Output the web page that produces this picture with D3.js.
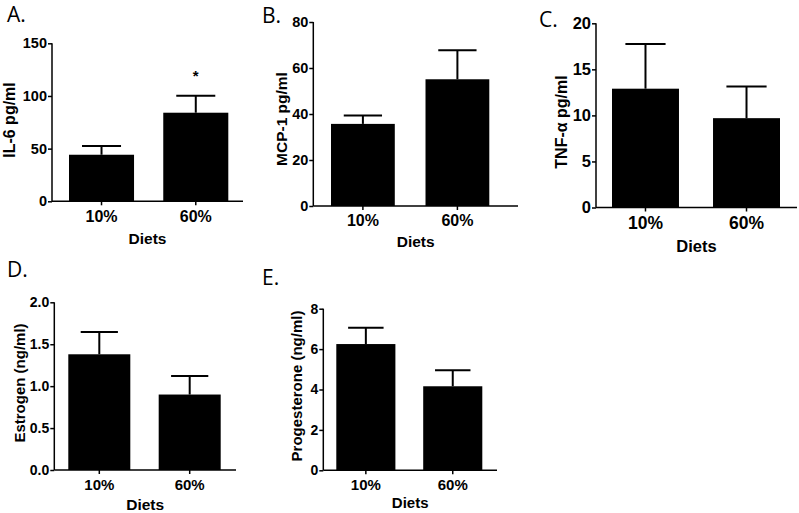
<!DOCTYPE html>
<html><head><meta charset="utf-8">
<script src="https://cdn.jsdelivr.net/npm/d3@7"></script>
<style>
html,body{margin:0;padding:0;background:#fff;}
svg{display:block;}
.lab{font-family:"Liberation Sans",Arial,sans-serif;font-weight:bold;fill:#000;}
.ttl{font-family:"Open Sans",sans-serif;font-weight:normal;fill:#000;}
</style>
</head><body>
<svg id="c" width="799" height="513"></svg>
<script>
// ---- data ----
const categories = ["10%", "60%"];
const xTitle = "Diets";

const il6Mean = [44.2, 84.1];
const il6Sem = [8.3, 16.2];
const il6Ticks = [0, 50, 100, 150];

const mcp1Mean = [35.7, 55.1];
const mcp1Sem = [3.7, 12.6];
const mcp1Ticks = [0, 20, 40, 60, 80];

const tnfMean = [12.9, 9.7];
const tnfSem = [4.85, 3.45];
const tnfTicks = [0, 5, 10, 15, 20];

const estrogenMean = [1.38, 0.90];
const estrogenSem = [0.265, 0.22];
const estrogenTicks = [0, 0.5, 1.0, 1.5, 2.0];

const progMean = [6.25, 4.16];
const progSem = [0.81, 0.79];
const progTicks = [0, 2, 4, 6, 8];

const panelLetters = ["A.", "B.", "C.", "D.", "E."];
const yTitles = ["IL-6 pg/ml", "MCP-1 pg/ml", "TNF-\u03b1 pg/ml", "Estrogen (ng/ml)", "Progesterone (ng/ml)"];
const significance = [["", "*"], ["", ""], ["", ""], ["", ""], ["", ""]];

// ---- layout ----
const layouts = [
  {ax:52, ax1:243, y0:201.3, y1:43.3, b0:69, b1:228.3, pad:0.31, ytf:14.5, xtf:16, lf:16, xlf:15.5, lx:9, ly:120, tx:7, ty:22, xlabY:244},
  {ax:313.3, ax1:518, y0:206, y1:22, b0:331, b1:489.3, pad:0.325, ytf:14.5, xtf:16, lf:15.5, xlf:15.5, lx:281, ly:119, tx:262, ty:23, xlabY:247},
  {ax:596, ax1:797, y0:207.5, y1:23.3, b0:612, b1:780, pad:0.337, ytf:16.5, xtf:17.5, lf:16, xlf:16.5, lx:561, ly:122, tx:539, ty:27, xlabY:252},
  {ax:54.3, ax1:236, y0:470, y1:302.3, b0:68.3, b1:220.7, pad:0.314, ytf:14, xtf:15, lf:15, xlf:15.5, lx:19, ly:383, tx:7, ty:277, xlabY:510},
  {ax:323.3, ax1:497, y0:470.3, y1:308.7, b0:336.3, b1:482.3, pad:0.32, ytf:14, xtf:15, lf:15, xlf:15, lx:296, ly:386, tx:262, ty:285, xlabY:508}
];

const panels = [
  {mean: il6Mean, sem: il6Sem, ticks: il6Ticks, fmt: d3.format("d")},
  {mean: mcp1Mean, sem: mcp1Sem, ticks: mcp1Ticks, fmt: d3.format("d")},
  {mean: tnfMean, sem: tnfSem, ticks: tnfTicks, fmt: d3.format("d")},
  {mean: estrogenMean, sem: estrogenSem, ticks: estrogenTicks, fmt: d3.format(".1f")},
  {mean: progMean, sem: progSem, ticks: progTicks, fmt: d3.format("d")}
];

const svg = d3.select("#c");

panels.forEach((p, i) => {
  const L = layouts[i];
  const g = svg.append("g");
  const yMax = p.ticks[p.ticks.length - 1];
  const y = d3.scaleLinear().domain([0, yMax]).range([L.y0, L.y1]);
  const x = d3.scaleBand().domain(categories).range([L.b0, L.b1]).paddingInner(L.pad).paddingOuter(0);
  const bw = x.bandwidth();

  // bars
  g.selectAll("rect.bar").data(categories).enter().append("rect")
    .attr("x", d => x(d)).attr("width", bw)
    .attr("y", (d, k) => y(p.mean[k]))
    .attr("height", (d, k) => L.y0 - y(p.mean[k]))
    .attr("fill", "#000");

  // error bars
  categories.forEach((c, k) => {
    const cx = x(c) + bw / 2;
    const top = y(p.mean[k] + p.sem[k]);
    g.append("line").attr("x1", cx).attr("x2", cx).attr("y1", y(p.mean[k])).attr("y2", top)
      .attr("stroke", "#000").attr("stroke-width", 2);
    g.append("line").attr("x1", cx - bw * 0.3).attr("x2", cx + bw * 0.3).attr("y1", top).attr("y2", top)
      .attr("stroke", "#000").attr("stroke-width", 2);
    if (significance[i][k]) {
      g.append("text").attr("class", "lab").attr("x", cx).attr("y", top - 15)
        .attr("text-anchor", "middle").style("font-size", "15px").text(significance[i][k]);
    }
  });

  // y axis
  const ya = g.append("g").attr("transform", `translate(${L.ax},0)`)
    .call(d3.axisLeft(y).tickValues(p.ticks).tickFormat(p.fmt).tickSize(4).tickPadding(1));
  ya.select(".domain").attr("d", `M-0,${L.y1}V${L.y0}`);

  // x axis
  const xa = g.append("g").attr("transform", `translate(0,${L.y0})`)
    .call(d3.axisBottom(x).tickSize(4).tickPadding(5));
  xa.select(".domain").attr("d", `M${L.ax},0H${L.ax1}`);

  [[ya, L.ytf], [xa, L.xtf]].forEach(([a, fs]) => {
    a.attr("font-family", null).attr("font-size", null);
    a.select(".domain").attr("stroke", "#000").attr("stroke-width", 1.5);
    a.selectAll(".tick line").attr("stroke", "#000").attr("stroke-width", 1.5);
    a.selectAll(".tick text").attr("class", "lab")
      .style("font-size", fs + "px").attr("fill", "#000");
  });

  // x title
  g.append("text").attr("class", "lab").attr("x", (L.ax + L.ax1) / 2).attr("y", L.xlabY)
    .attr("text-anchor", "middle").style("font-size", L.xlf + "px").text(xTitle);

  // y title
  g.append("text").attr("class", "lab")
    .attr("transform", `translate(${L.lx + 5.5},${L.ly}) rotate(-90)`)
    .attr("text-anchor", "middle").style("font-size", L.lf + "px").text(yTitles[i]);

  // panel letter
  g.append("text").attr("class", "ttl").attr("x", L.tx).attr("y", L.ty)
    .style("font-size", "21px").text(panelLetters[i]);
});
</script>
</body></html>
